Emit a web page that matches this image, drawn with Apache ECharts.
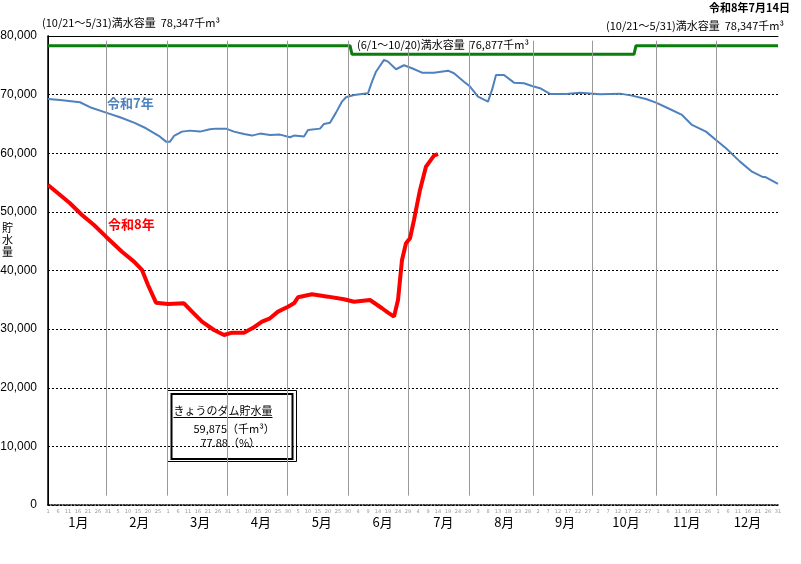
<!DOCTYPE html>
<html lang="ja">
<head>
<meta charset="utf-8">
<title>ダム貯水量</title>
<script src="https://cdn.jsdelivr.net/npm/echarts@6/dist/echarts.min.js"></script>
<style>
html, body { margin: 0; padding: 0; background: #fff; }
#chart { width: 801px; height: 564px; }
</style>
</head>
<body>
<div id="chart"></div>
<script>
// 横軸は通し日（うるう年基準）: 0 = 1/1 … 365 = 12/31
const monthLabels = ['1月', '2月', '3月', '4月', '5月', '6月', '7月', '8月', '9月', '10月', '11月', '12月']

// 令和7年
const r7Day = [0, 6, 16, 21, 29, 36, 43, 49, 56, 59, 61, 63, 67, 71, 76, 81, 84, 89, 93, 98, 102, 106, 111, 116,
  121, 123, 128, 130, 131, 136, 138, 141, 144, 147, 149, 153, 160, 162, 164, 168, 170, 174, 178, 182, 187, 193,
  200, 203, 208, 211, 215, 220, 222, 224, 228, 233, 238, 242, 246, 251, 259, 266, 276, 277, 286, 292, 299, 304,
  309, 317, 322, 329, 334, 339, 346, 352, 357, 359, 365]
const r7Val = [69270, 69100, 68700, 67850, 66930, 66140, 65220, 64260, 62830, 61980, 61980, 62950, 63690, 63860,
  63690, 64090, 64200, 64200, 63690, 63290, 63010, 63350, 63120, 63180, 62730, 63010, 62840, 63980, 64200, 64200,
  65000, 65220, 66930, 68810, 69560, 69950, 70230, 72210, 73910, 75920, 75630, 74330, 75010, 74500, 73750, 73750,
  74090, 73640, 72210, 71370, 69660, 68810, 70800, 73360, 73360, 72040, 71940, 71480, 71090, 70120, 70120, 70340,
  70060, 70330, 70170, 69830, 69260, 68630, 67850, 66530, 64830, 63690, 62270, 60850, 58570, 56860, 56010, 55900,
  54760]

// 令和8年（7/14まで）
const r8Day = [0, 5, 11, 17, 23, 29, 37, 43, 47, 50, 54, 60, 68, 72, 77, 83, 88, 92, 98, 103, 107, 111, 115, 120,
  123, 125, 132, 140, 148, 153, 161, 167, 170, 173, 175, 177, 179, 181, 183, 186, 189, 193, 195]
const r8Val = [54590, 53180, 51470, 49470, 47770, 45770, 43210, 41510, 40090, 37530, 34510, 34290, 34410, 32980,
  31270, 29850, 29000, 29400, 29400, 30320, 31270, 31840, 32980, 33830, 34410, 35430, 35940, 35540, 35090, 34680,
  34970, 33560, 32810, 32130, 34970, 41800, 44640, 45500, 48620, 53740, 57720, 59590, 59875]

// 満水容量
const fullDay = [0, 151, 152, 293, 294, 365]
const fullVal = [78347, 78347, 76877, 76877, 78347, 78347]

// 月の区切り線（通し日）
const monthLines = [29, 59.5, 89.5, 119.5, 150, 180, 210.5, 242.5, 272, 304, 334]

const todayVol = '59,875'
const todayRate = '77.88'

const zip = (a, b) => a.map((d, i) => [d, b[i]])
const jp = '"Noto Sans CJK JP", sans-serif'

const chart = echarts.init(document.getElementById('chart'))

chart.setOption({
  animation: false,
  grid: { left: 48, right: 23, top: 36, bottom: 59, containLabel: false, outerBoundsMode: 'none' },
  xAxis: [
    {
      type: 'value', min: 0, max: 365, interval: 5, position: 'bottom',
      axisLine: { lineStyle: { color: '#000', type: 'dotted', width: 1.5 } },
      axisTick: { show: false },
      splitLine: { show: false },
      axisLabel: {
        fontSize: 5, color: '#999', margin: 4, fontFamily: 'DejaVu Sans',
        formatter: v => new Date(2024, 0, 1 + v).getDate()
      }
    },
    {
      type: 'category', data: monthLabels, position: 'bottom', boundaryGap: true,
      axisLine: { show: false }, axisTick: { show: false },
      axisLabel: { margin: 11, fontSize: 13, color: '#000', fontFamily: jp }
    },
    {
      type: 'value', min: 0, max: 365, position: 'top',
      axisLine: { lineStyle: { color: '#000', width: 1 } },
      axisTick: { show: false }, axisLabel: { show: false }, splitLine: { show: false }
    }
  ],
  yAxis: [
    {
      type: 'value', min: 0, max: 80000, interval: 10000,
      axisLine: { show: true, lineStyle: { color: '#000', width: 1 } },
      axisTick: { show: false },
      axisLabel: {
        margin: 11, fontSize: 12, color: '#000', fontFamily: 'Liberation Sans',
        formatter: v => v.toLocaleString('en-US')
      },
      splitLine: { lineStyle: { color: '#000', type: [2, 2], width: 1 } }
    },
    {
      type: 'value', min: 0, max: 80000, position: 'right',
      axisLine: { show: true, lineStyle: { color: '#000', width: 1.5 } },
      axisTick: { show: false }, axisLabel: { show: false }, splitLine: { show: false }
    }
  ],
  series: [
    {
      name: '満水容量', type: 'line', data: zip(fullDay, fullVal),
      symbol: 'none', z: 3,
      lineStyle: { color: '#0a7d0a', width: 3 },
      markLine: {
        silent: true, symbol: ['none', 'none'], label: { show: false },
        lineStyle: { color: '#999', type: 'solid', width: 1 },
        data: monthLines.map(d => [{ coord: [d, 1600] }, { coord: [d, 79200] }])
      }
    },
    {
      name: '令和7年', type: 'line', data: zip(r7Day, r7Val),
      symbol: 'none', z: 4,
      lineStyle: { color: '#4f81bd', width: 2 }
    },
    {
      name: '令和8年', type: 'line', data: zip(r8Day, r8Val),
      symbol: 'none', z: 5,
      lineStyle: { color: '#ff0000', width: 4 }
    }
  ],
  graphic: [
    { type: 'text', right: 11, top: 2, style: { text: '令和8年7月14日', font: 'bold 11px ' + jp, fill: '#000' } },
    { type: 'text', left: 42, top: 17, style: { text: '(10/21～5/31)満水容量  78,347千m³', font: '11px ' + jp, fill: '#000' } },
    { type: 'text', left: 606, top: 20, style: { text: '(10/21～5/31)満水容量  78,347千m³', font: '11px ' + jp, fill: '#000' } },
    { type: 'text', left: 357, top: 39, z: 10, style: { text: '(6/1～10/20)満水容量  76,877千m³', font: '11px ' + jp, fill: '#000' } },
    { type: 'text', left: 2, top: 222, style: { text: '貯\n水\n量', font: '11px ' + jp, lineHeight: 12, fill: '#000' } },
    { type: 'text', left: 107, top: 97, z: 10, style: { text: '令和7年', font: 'bold 13px ' + jp, fill: '#4f81bd' } },
    { type: 'text', left: 108, top: 218, z: 10, style: { text: '令和8年', font: 'bold 13px ' + jp, fill: '#ff0000' } },
    {
      type: 'group', left: 167, top: 390, z: 20,
      children: [
        { type: 'rect', shape: { x: 0, y: 0, width: 129, height: 71 }, style: { fill: '#fff', stroke: '#000', lineWidth: 1 } },
        { type: 'rect', shape: { x: 4, y: 3.5, width: 121, height: 65 }, style: { fill: 'none', stroke: '#000', lineWidth: 2 } },
        { type: 'text', x: 6, y: 20, style: { text: 'きょうのダム貯水量', font: '11px ' + jp, fill: '#000', verticalAlign: 'middle' } },
        { type: 'line', shape: { x1: 6, y1: 27, x2: 105, y2: 27 }, style: { stroke: '#000', lineWidth: 1 } },
        { type: 'text', x: 26, y: 38, style: { text: todayVol + '（千m³）', font: '11px ' + jp, fill: '#000', verticalAlign: 'middle' } },
        { type: 'text', x: 33, y: 52, style: { text: todayRate + '（%）', font: '11px ' + jp, fill: '#000', verticalAlign: 'middle' } }
      ]
    }
  ]
})
</script>
</body>
</html>
